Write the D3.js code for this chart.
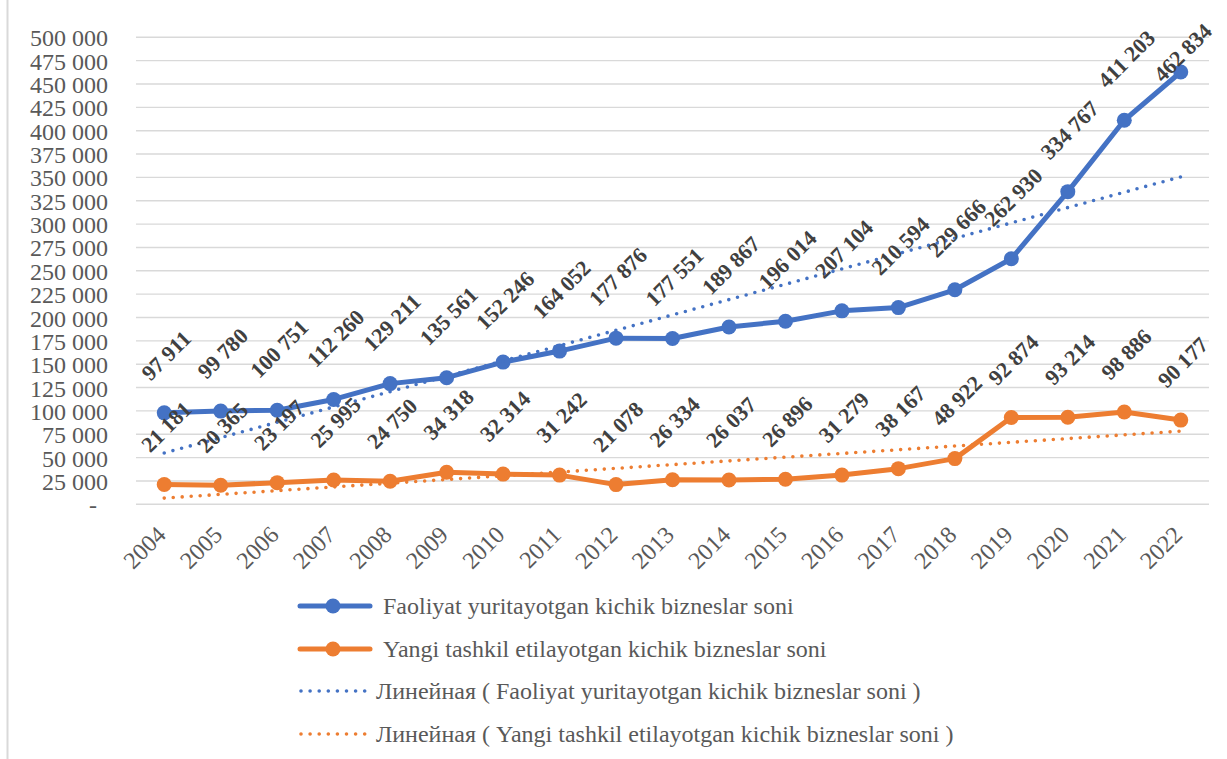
<!DOCTYPE html>
<html>
<head>
<meta charset="utf-8">
<script src="https://cdn.jsdelivr.net/npm/d3@7"></script>
<style>
  html, body { margin: 0; padding: 0; background: #fff; }
  svg { display: block; }
</style>
</head>
<body>
<svg id="chart" width="1227" height="759"></svg>
<script>
// ---- data ----
const years = ["2004","2005","2006","2007","2008","2009","2010","2011","2012","2013","2014","2015","2016","2017","2018","2019","2020","2021","2022"];
const activeBiz = [97911, 99780, 100751, 112260, 129211, 135561, 152246, 164052, 177876, 177551, 189867, 196014, 207104, 210594, 229666, 262930, 334767, 411203, 462834];
const newBiz = [21181, 20365, 23197, 25995, 24750, 34318, 32314, 31242, 21078, 26334, 26037, 26896, 31279, 38167, 48922, 92874, 93214, 98886, 90177];
const yTicks = [0, 25000, 50000, 75000, 100000, 125000, 150000, 175000, 200000, 225000, 250000, 275000, 300000, 325000, 350000, 375000, 400000, 425000, 450000, 475000, 500000];
const seriesNames = ["Faoliyat yuritayotgan kichik bizneslar soni", "Yangi tashkil etilayotgan kichik bizneslar soni"];
const trendNames = ["Линейная ( Faoliyat yuritayotgan kichik bizneslar soni )", "Линейная ( Yangi tashkil etilayotgan kichik bizneslar soni )"];

const BLUE = "#4472C4", ORANGE = "#ED7D31";
const FONT = "'Liberation Serif', 'Times New Roman', serif";

const svg = d3.select("#chart");

// left border
svg.append("line").attr("x1", 7.5).attr("x2", 7.5).attr("y1", 0).attr("y2", 759)
  .attr("stroke", "#d9d9d9").attr("stroke-width", 2);

const x = d3.scaleBand().domain(years).range([136, 1209]);
const cx = d => x(d) + x.bandwidth() / 2;
const y = d3.scaleLinear().domain([0, 500000]).range([504.3, 37.3]);

// gridlines
svg.append("g").selectAll("line").data(yTicks).join("line")
  .attr("x1", 136).attr("x2", 1209)
  .attr("y1", d => y(d)).attr("y2", d => y(d))
  .attr("stroke", "#d9d9d9").attr("stroke-width", 1.4);

// y axis
const fmt = d => d === 0 ? "-" : d3.format(",")(d).replace(/,/g, " ");
const yAxis = svg.append("g").attr("transform", "translate(108,0)")
  .call(d3.axisLeft(y).tickValues(yTicks).tickSize(0).tickPadding(0).tickFormat(fmt));
yAxis.select(".domain").remove();
yAxis.selectAll("text")
  .attr("font-family", FONT).attr("font-size", 24).attr("fill", "#595959")
  .attr("dy", 8.5)
  .attr("dx", d => d === 0 ? -11 : 0);

// x axis
const xAxis = svg.append("g").attr("transform", "translate(0,504.3)")
  .call(d3.axisBottom(x).tickSize(0).tickPadding(0));
xAxis.select(".domain").remove();
xAxis.selectAll("text")
  .attr("font-family", FONT).attr("font-size", 24).attr("fill", "#595959")
  .attr("text-anchor", "end")
  .attr("y", 0).attr("dy", 0)
  .attr("transform", "translate(3,32) rotate(-45)");

// trendlines (linear least squares, as Excel computes them)
function linFit(vals) {
  const n = vals.length;
  const xs = vals.map((v, i) => i + 1);
  const mx = d3.mean(xs), my = d3.mean(vals);
  let sxy = 0, sxx = 0;
  vals.forEach((v, i) => { sxy += (xs[i] - mx) * (v - my); sxx += (xs[i] - mx) ** 2; });
  const b = sxy / sxx, a = my - b * mx;
  return xs.map(xx => a + b * xx);
}

const lineGen = d3.line().x(d => cx(d.year)).y(d => y(d.v));

function drawSeries(vals, color) {
  const pts = years.map((yr, i) => ({ year: yr, v: vals[i] }));
  svg.append("path").datum(pts).attr("d", lineGen)
    .attr("fill", "none").attr("stroke", color).attr("stroke-width", 5)
    .attr("stroke-linejoin", "round").attr("stroke-linecap", "round");
  svg.append("g").selectAll("circle").data(pts).join("circle")
    .attr("cx", d => cx(d.year)).attr("cy", d => y(d.v)).attr("r", 7.5)
    .attr("fill", color);
}
function drawTrend(vals, color) {
  const fit = linFit(vals);
  const pts = [{ year: years[0], v: fit[0] }, { year: years[years.length - 1], v: fit[fit.length - 1] }];
  svg.append("path").datum(pts).attr("d", lineGen)
    .attr("fill", "none").attr("stroke", color).attr("stroke-width", 3.6)
    .attr("stroke-linecap", "round").attr("stroke-dasharray", "0 9");
}

drawSeries(activeBiz, BLUE);
drawSeries(newBiz, ORANGE);
drawTrend(activeBiz, BLUE);
drawTrend(newBiz, ORANGE);

// data labels
function drawLabels(vals) {
  const g = svg.append("g");
  years.forEach((yr, i) => {
    const t = g.append("text")
      .attr("font-family", FONT).attr("font-size", 22).attr("font-weight", "bold")
      .attr("fill", "#404040").attr("text-anchor", "middle")
      .attr("dy", 7.5)
      .text(fmt(vals[i]));
    const L = t.node().getComputedTextLength();
    const H = (L + 15) * Math.SQRT1_2;
    let c = y(vals[i]) - 31 - H / 2;
    c = Math.max(c, 22 + H / 2);
    t.attr("transform", `translate(${cx(yr) + 2},${c}) rotate(-45)`);
  });
}
drawLabels(activeBiz);
drawLabels(newBiz);

// legend
const legend = svg.append("g");
const rows = [
  { name: seriesNames[0], color: BLUE, type: "line", y: 606, tx: 383 },
  { name: seriesNames[1], color: ORANGE, type: "line", y: 649, tx: 383 },
  { name: trendNames[0], color: BLUE, type: "dot", y: 691, tx: 376 },
  { name: trendNames[1], color: ORANGE, type: "dot", y: 734, tx: 376 }
];
rows.forEach(r => {
  if (r.type === "line") {
    legend.append("line").attr("x1", 300).attr("x2", 370).attr("y1", r.y).attr("y2", r.y)
      .attr("stroke", r.color).attr("stroke-width", 5).attr("stroke-linecap", "round");
    legend.append("circle").attr("cx", 333).attr("cy", r.y).attr("r", 7.5).attr("fill", r.color);
  } else {
    legend.append("line").attr("x1", 301).attr("x2", 365).attr("y1", r.y).attr("y2", r.y)
      .attr("stroke", r.color).attr("stroke-width", 3.6).attr("stroke-linecap", "round")
      .attr("stroke-dasharray", "0 9.1");
  }
  legend.append("text").attr("x", r.tx).attr("y", r.y).attr("dy", 8)
    .attr("font-family", FONT).attr("font-size", 24).attr("fill", "#595959")
    .text(r.name);
});
</script>
</body>
</html>
